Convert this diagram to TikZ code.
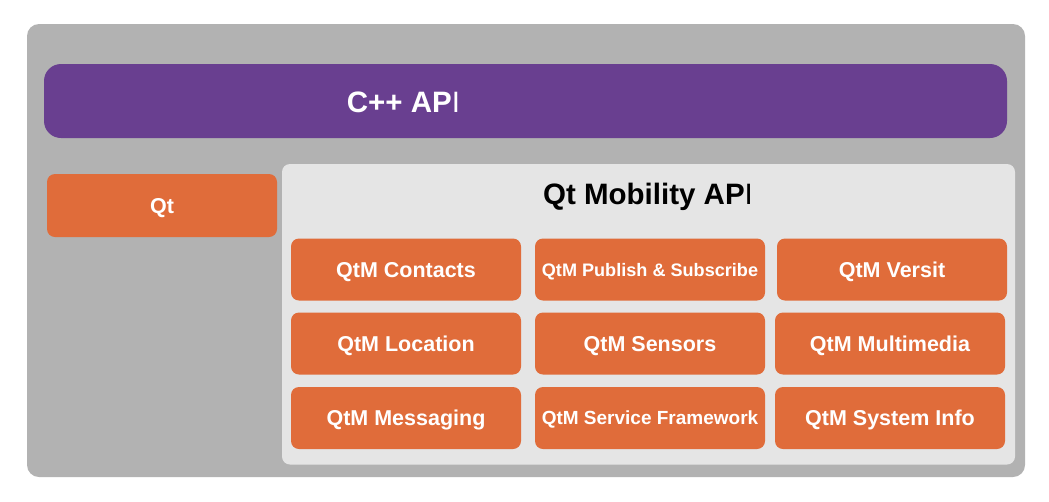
\documentclass[tikz,border=0pt]{standalone}
\usepackage{fontspec}
\setmainfont{Liberation Sans}
\definecolor{outergray}{HTML}{B2B2B2}
\definecolor{apipurple}{HTML}{693F90}
\definecolor{qtorange}{HTML}{E06C3A}
\definecolor{panelgray}{HTML}{E5E5E5}
\newcommand\thinI{{\mdseries I}}
\tikzset{
  layer/.style={inner sep=0pt, outer sep=0pt, draw=none, anchor=center},
  modbox/.style={layer, fill=qtorange, rounded corners=8pt, minimum width=230pt, minimum height=62pt,
    text=white, font=\fontsize{21.5}{21.5}\selectfont\bfseries, text height=15.3pt, text depth=0pt},
  pubmod/.style={modbox, font=\fontsize{18.1}{18.1}\selectfont\bfseries, text height=13pt},
  servmod/.style={modbox, font=\fontsize{19}{19}\selectfont\bfseries, text height=13.6pt},
  title/.style={layer, font=\fontsize{29.5}{29.5}\selectfont\bfseries, text height=21pt, text depth=0pt}
}
\begin{document}
\begin{tikzpicture}[x=1pt,y=-1pt]
\useasboundingbox (0,0) rectangle (1049,501);
\node[layer, fill=outergray, rounded corners=12pt, minimum width=998pt, minimum height=453pt] (outer) at (526,250.5) {};
\node[layer, fill=apipurple, rounded corners=17pt, minimum width=963pt, minimum height=74pt] (cppbar) at (525.5,101) {};
\node[title, text=white] (cpplabel) at (403.5,101.5) {C++ AP\thinI};
\node[modbox, minimum width=230pt, minimum height=63pt] (qt) at (162,205.5) {Qt};
\node[layer, fill=panelgray, rounded corners=8pt, minimum width=733pt, minimum height=300.5pt] (panel) at (648.5,314.25) {};
\node[title, text=black] (paneltitle) at (648,194) {Qt Mobility AP\thinI};
% row 1
\node[modbox] (contacts) at (406,269.5) {QtM Contacts};
\node[pubmod] (pubsub) at (650,269.5) {QtM Publish \& Subscribe};
\node[modbox] (versit) at (892,269.5) {QtM Versit};
% row 2
\node[modbox] (location) at (406,343.5) {QtM Location};
\node[modbox] (sensors) at (650,343.5) {QtM Sensors};
\node[modbox] (multimedia) at (890,343.5) {QtM Multimedia};
% row 3
\node[modbox] (messaging) at (406,418) {QtM Messaging};
\node[servmod] (service) at (650,418) {QtM Service Framework};
\node[modbox] (sysinfo) at (890,418) {QtM System Info};
\end{tikzpicture}
\end{document}
